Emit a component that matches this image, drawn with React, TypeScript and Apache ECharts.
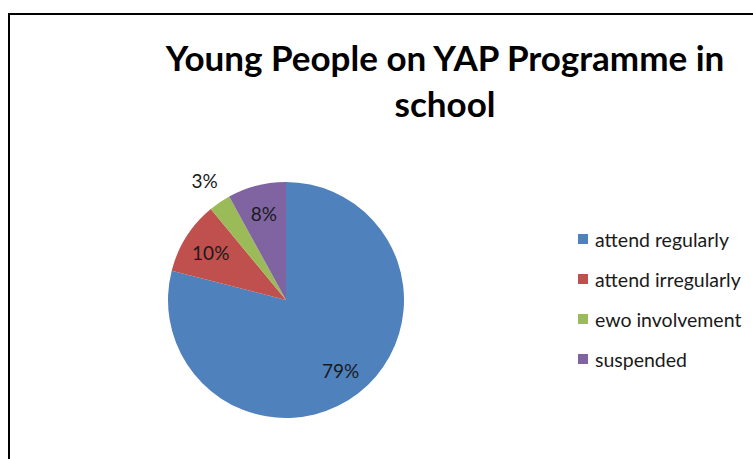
import React, { useEffect, useRef } from "react";
import * as echarts from "echarts";

const categories = ["attend regularly", "attend irregularly", "ewo involvement", "suspended"];
const values = [79, 10, 3, 8];
const colors = ["#4F81BD", "#C0504D", "#9BBB59", "#8064A2"];
const titleText = "Young People on YAP Programme in\nschool";
const outsideLabelValues = [3];

const FONT = "Lato, 'Liberation Sans', Arial, sans-serif";

export default function App() {
  const ref = useRef<HTMLDivElement>(null);
  useEffect(() => {
    if (!ref.current) return;
    const chart = echarts.init(ref.current, undefined, { renderer: "svg" });
    const R = 118;
    const labelStyle = {
      show: true,
      position: "inside",
      formatter: "{c}%",
      color: "#1a1a1a",
      fontSize: 19,
      fontFamily: FONT,
    };
    const mainData = categories.map((name, i) => ({
      name,
      value: values[i],
      itemStyle: { color: colors[i] },
    }));
    const ghostInner = categories.map((name, i) => ({
      name,
      value: values[i],
      itemStyle: { color: "rgba(0,0,0,0)" },
      label: { show: !outsideLabelValues.includes(values[i]) },
    }));
    const ghostOuter = categories.map((name, i) => ({
      name,
      value: values[i],
      itemStyle: { color: "rgba(0,0,0,0)" },
      label: { show: outsideLabelValues.includes(values[i]) },
    }));
    const ghostBase = {
      type: "pie",
      center: [286, 300],
      startAngle: 90,
      clockwise: true,
      silent: true,
      avoidLabelOverlap: false,
      label: labelStyle,
      labelLine: { show: false },
      emphasis: { disabled: true },
      tooltip: { show: false },
    };
    chart.setOption({
      animation: false,
      backgroundColor: "#ffffff",
      title: {
        text: titleText,
        left: 440,
        top: 29,
        textAlign: "center",
        textStyle: {
          fontFamily: FONT,
          fontWeight: "bold",
          fontSize: 35,
          lineHeight: 46,
          color: "#000",
        },
      },
      legend: {
        orient: "vertical",
        left: 573,
        top: 224,
        icon: "rect",
        itemWidth: 10,
        itemHeight: 10,
        itemGap: 20,
        data: categories,
        textStyle: {
          fontFamily: FONT,
          fontSize: 19.5,
          lineHeight: 20,
          color: "#1a1a1a",
          padding: [0, 0, 0, 2],
        },
      },
      graphic: [
        {
          type: "rect",
          shape: { x: 9, y: 14, width: 800, height: 500 },
          style: { fill: "none", stroke: "#000", lineWidth: 2 },
          silent: true,
        },
      ],
      series: [
        {
          type: "pie",
          center: [286, 300],
          radius: [0, R],
          startAngle: 90,
          clockwise: true,
          avoidLabelOverlap: false,
          label: { show: false },
          labelLine: { show: false },
          data: mainData,
          emphasis: { disabled: true },
        },
        { ...ghostBase, radius: [0, R * 1.46], data: ghostInner },
        { ...ghostBase, radius: [0, R * 2.4], data: ghostOuter },
      ],
    });
    return () => chart.dispose();
  }, []);
  return (
    <div
      ref={ref}
      style={{ position: "fixed", left: 0, top: 0, width: 753, height: 459 }}
    />
  );
}
